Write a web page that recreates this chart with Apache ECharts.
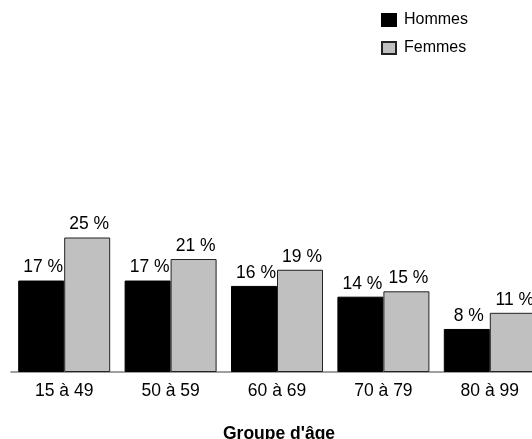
<!DOCTYPE html>
<html>
<head>
<meta charset="utf-8">
<style>
  html, body { margin: 0; padding: 0; background: #fff; }
  #chart { width: 532px; height: 439px; }
</style>
<script src="https://cdn.jsdelivr.net/npm/echarts@6/dist/echarts.min.js"></script>
</head>
<body>
<div id="chart"></div>
<script>
// Age groups and shares (%) by sex
const categories = ['15 à 49', '50 à 59', '60 à 69', '70 à 79', '80 à 99'];
const hommes = [17, 17, 16, 14, 8];
const femmes = [25, 21, 19, 15, 11];
const seriesNames = ['Hommes', 'Femmes'];
const axisTitle = "Groupe d'âge";

const FONT = 'Arial, "Liberation Sans", sans-serif';

const chart = echarts.init(document.getElementById('chart'), null, { renderer: 'canvas' });

const valueLabel = {
  show: true,
  position: 'top',
  distance: 4,
  offset: [2, 0],
  color: '#000',
  fontFamily: FONT,
  fontSize: 17.5,
  formatter: p => p.value + ' %'
};

chart.setOption({
  animation: false,
  backgroundColor: '#fff',
  grid: { left: 11, top: 103, width: 532, height: 269, outerBoundsMode: 'none' },
  legend: {
    orient: 'vertical',
    left: 381,
    top: 12,
    padding: 0,
    itemWidth: 14,
    itemHeight: 12,
    itemGap: 12,
    icon: 'rect',
    textStyle: { fontFamily: FONT, fontSize: 16, color: '#000', padding: [0, 0, 0, 3] },
    data: seriesNames
  },
  xAxis: {
    type: 'category',
    data: categories,
    axisLine: { lineStyle: { color: '#808080', width: 1.5 } },
    axisTick: { show: false },
    axisLabel: { color: '#000', fontFamily: FONT, fontSize: 17.5, margin: 10 }
  },
  yAxis: {
    type: 'value',
    min: 0,
    max: 50,
    show: false,
    splitLine: { show: false }
  },
  graphic: [{
    type: 'text',
    left: 223,
    top: 425,
    style: { text: axisTitle, fontFamily: FONT, fontSize: 17.5, fontWeight: 'bold', fill: '#000' }
  }],
  series: [
    {
      name: seriesNames[0],
      type: 'bar',
      data: hommes,
      barWidth: 46,
      barGap: '0%',
      itemStyle: { color: '#000', borderColor: '#000', borderWidth: 1 },
      label: valueLabel
    },
    {
      name: seriesNames[1],
      type: 'bar',
      data: femmes,
      barWidth: 46,
      barGap: '0%',
      itemStyle: { color: '#c0c0c0', borderColor: '#222', borderWidth: 1 },
      label: valueLabel
    }
  ]
});
</script>
</body>
</html>
